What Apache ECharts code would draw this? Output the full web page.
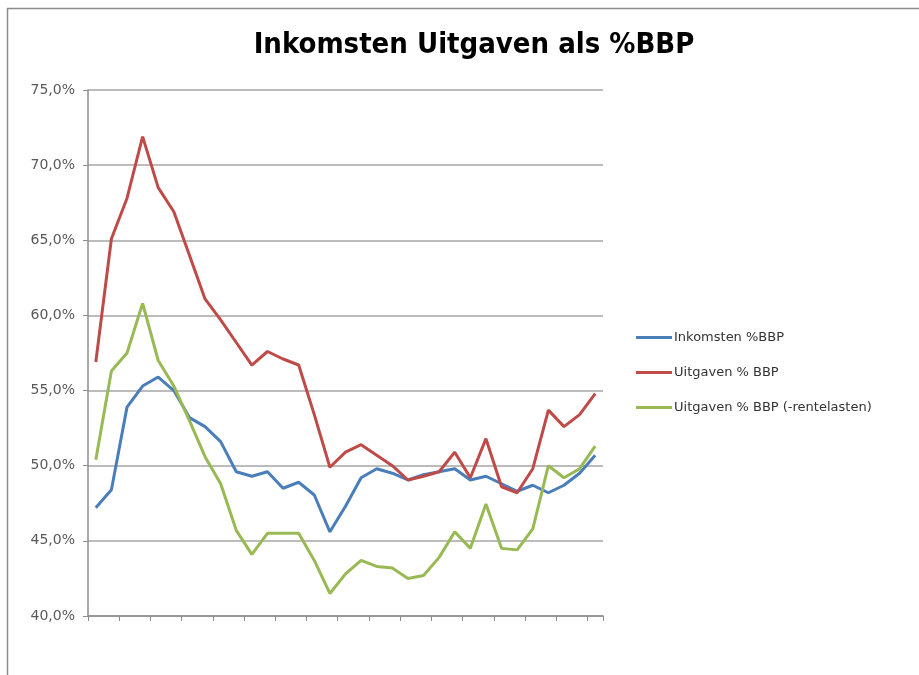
<!DOCTYPE html>
<html>
<head>
<meta charset="utf-8">
<script src="https://cdn.jsdelivr.net/npm/echarts@6/dist/echarts.min.js"></script>
<style>
  html, body { margin: 0; padding: 0; background: #fff; }
  #main { width: 919px; height: 675px; }
</style>
</head>
<body>
<div id="main"></div>
<script>
// 33 jaren, geen labels op de x-as
var categories = [];
for (var i = 1; i <= 33; i++) categories.push(String(i));

var inkomsten = [47.2, 48.4, 53.9, 55.3, 55.9, 55.0, 53.2, 52.6, 51.6, 49.6, 49.3,
                 49.6, 48.5, 48.9, 48.05, 45.6, 47.3, 49.2, 49.8, 49.5, 49.05, 49.4,
                 49.6, 49.8, 49.05, 49.3, 48.8, 48.3, 48.7, 48.2, 48.7, 49.5, 50.7];

var uitgaven = [56.9, 65.1, 67.8, 71.9, 68.5, 66.9, 64.0, 61.1, 59.7, 58.2, 56.7,
                57.6, 57.1, 56.7, 53.4, 49.9, 50.9, 51.4, 50.7, 50.0, 49.05, 49.3,
                49.6, 50.9, 49.2, 51.8, 48.6, 48.2, 49.8, 53.7, 52.6, 53.4, 54.8];

var uitgavenExRente = [50.4, 56.3, 57.5, 60.8, 57.0, 55.3, 53.0, 50.6, 48.8, 45.7, 44.1,
                       45.5, 45.5, 45.5, 43.7, 41.5, 42.8, 43.7, 43.3, 43.2, 42.5, 42.7,
                       43.9, 45.6, 44.5, 47.45, 44.5, 44.4, 45.8, 50.0, 49.2, 49.8, 51.3];

var seriesNames = ['Inkomsten %BBP', 'Uitgaven % BBP', 'Uitgaven % BBP (-rentelasten)'];
var colors = ['#4a7ebb', '#be4b48', '#98b954'];

var myChart = echarts.init(document.getElementById('main'));

function lijn(name, data, color) {
    return {
        name: name,
        type: 'line',
        data: data,
        symbol: 'none',
        smooth: false,
        lineStyle: { width: 3, color: color },
        itemStyle: { color: color }
    };
}

myChart.setOption({
    animation: false,
    backgroundColor: '#fff',
    graphic: [{
        type: 'rect',
        shape: { x: 7.5, y: 8.5, width: 930, height: 690 },
        style: { fill: 'none', stroke: '#8c8c8c', lineWidth: 1.5 },
        silent: true
    }],
    title: {
        text: 'Inkomsten Uitgaven als %BBP',
        left: 469,
        textAlign: 'center',
        top: 26,
        textStyle: {
            fontFamily: 'DejaVu Sans Condensed',
            fontWeight: 'bold',
            fontSize: 29,
            color: '#000'
        }
    },
    legend: {
        data: seriesNames,
        orient: 'vertical',
        left: 631,
        top: 326,
        itemWidth: 36,
        itemHeight: 3,
        itemGap: 22,
        icon: 'rect',
        textStyle: {
            fontFamily: 'DejaVu Sans',
            fontSize: 13,
            color: '#333',
            padding: [0, 0, 0, -3]
        }
    },
    grid: {
        left: 88,
        right: 316,
        top: 90,
        bottom: 59,
        containLabel: false
    },
    xAxis: {
        type: 'category',
        data: categories,
        boundaryGap: true,
        axisLine: { lineStyle: { color: '#8c8c8c', width: 1.5 } },
        axisTick: { show: true, length: 5, lineStyle: { color: '#8c8c8c' } },
        axisLabel: { show: false },
        splitLine: { show: false }
    },
    yAxis: {
        type: 'value',
        min: 40,
        max: 75,
        interval: 5,
        axisLine: { show: true, lineStyle: { color: '#8c8c8c', width: 1.5 } },
        axisTick: { show: true, length: 5, lineStyle: { color: '#8c8c8c' } },
        axisLabel: {
            margin: 13,
            fontFamily: 'DejaVu Sans',
            fontSize: 14,
            color: '#595959',
            formatter: function (v) { return v.toFixed(1).replace('.', ',') + '%'; }
        },
        splitLine: { lineStyle: { color: '#a6a6a6', width: 1.5 } }
    },
    series: [
        lijn(seriesNames[0], inkomsten, colors[0]),
        lijn(seriesNames[1], uitgaven, colors[1]),
        lijn(seriesNames[2], uitgavenExRente, colors[2])
    ]
});
</script>
</body>
</html>
